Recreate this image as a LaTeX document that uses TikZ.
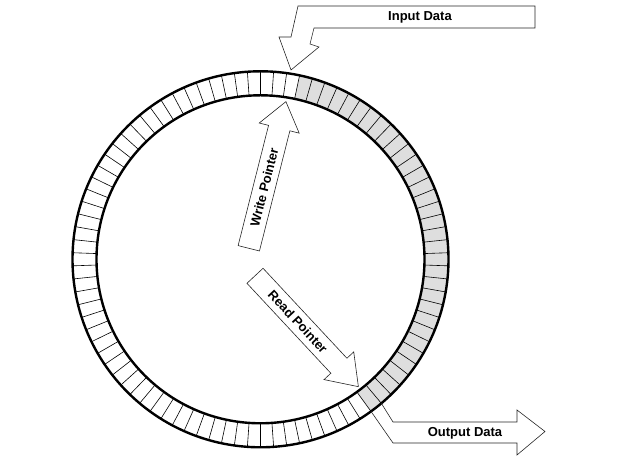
\documentclass[tikz,border=0pt]{standalone}
\usepackage{fontspec}
\setmainfont{Liberation Sans}
\tikzset{
  ringline/.style={line width=2.4pt},
  cellline/.style={line width=0.6pt},
  arrowline/.style={line width=0.6pt, draw=black!85, line join=miter},
  shadecell/.style={fill=black!13},
  lbl/.style={font=\fontsize{13}{15}\selectfont\bfseries, inner sep=0pt}
}
\begin{document}
\begin{tikzpicture}[x=1pt,y=1pt]
\useasboundingbox (0,0) rectangle (630,470);
\coordinate (c) at (260.5,210.7);
% ring
\begin{scope}[shift={(c)}]
  \fill[shadecell] (-54:188) arc[start angle=-54, end angle=78, radius=188]
     -- (78:164) arc[start angle=78, end angle=-54, radius=164] -- cycle;
  \foreach \a in {2,6,...,358} \draw[cellline] (\a:164) -- (\a:188);
  \draw[ringline] (0,0) circle[radius=188];
  \draw[ringline] (0,0) circle[radius=164];
  \coordinate (o1) at (-54:188);
  \coordinate (o2) at (-50:188);
\end{scope}
% input data arrow
\draw[arrowline] (298,464) -- (535,464) -- (535,442) -- (314,442) -- (310,426)
   -- (319,423) -- (291,400) -- (279,433) -- (291,433) -- cycle;
\node[lbl] (in) at (420,453) {Input Data};
% write pointer
\begin{scope}[shift={(248.8,221.7)}, rotate=75.8]
  \draw[arrowline] (0,-11) -- (124,-11) -- (124,-20.6) -- (151.3,0)
     -- (124,20.6) -- (124,11) -- (0,11) -- cycle;
  \node[lbl, rotate=75.8] (wp) at (63,0) {Write Pointer};
\end{scope}
% read pointer
\begin{scope}[shift={(255,194.2)}, rotate=-47]
  \draw[arrowline] (0,-11) -- (123,-11) -- (123,-20.3) -- (151.6,0)
     -- (123,20.3) -- (123,11) -- (0,11) -- cycle;
  \node[lbl, rotate=-47] (rp) at (63,0) {Read Pointer};
\end{scope}
% output data arrow
\draw[arrowline] (o1) -- (393,27) -- (517,27) -- (517,15) -- (545,38.5)
   -- (517,60) -- (517,48) -- (393,48) -- (o2);
\node[lbl] (out) at (465,37) {Output Data};
\end{tikzpicture}
\end{document}
